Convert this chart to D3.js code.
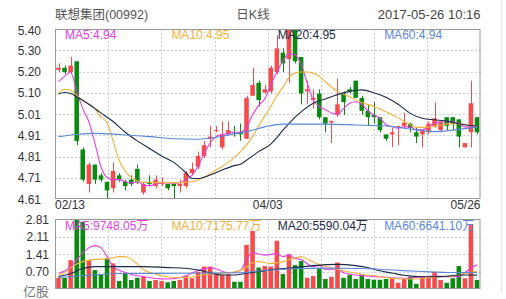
<!DOCTYPE html>
<html><head><meta charset="utf-8">
<script src="https://cdn.jsdelivr.net/npm/d3@7"></script>
<style>
html,body{margin:0;padding:0;background:#fff;}
svg{display:block;font-family:"Liberation Sans",Arial,"Noto Sans CJK SC",sans-serif;}
</style></head>
<body><svg id="c" width="506" height="299"></svg>
<script>
// ---------- data ----------
const title = "联想集团(00992)";
const subtitle = "日K线";
const stamp = "2017-05-26 10:16";
const opens  = [5.21,5.22,5.20,5.25,4.84,4.68,4.77,4.72,4.69,4.66,4.72,4.69,4.70,4.75,4.64,4.69,4.67,4.68,4.68,4.68,
                4.67,4.67,4.73,4.76,4.81,4.89,4.93,4.85,4.91,4.92,4.92,4.89,5.09,5.15,5.105,5.11,5.20,5.29,5.26,5.40,
                5.27,5.11,5.07,5.10,4.99,4.965,5.00,5.10,5.12,5.16,5.08,5.02,5.00,4.99,4.91,4.91,4.946,4.95,4.96,4.92,
                4.91,4.92,4.95,4.93,4.99,4.99,4.98,4.85,4.92,4.99];
const highs  = [5.24,5.23,5.27,5.25,4.85,4.78,4.77,4.73,4.69,4.78,4.73,4.70,4.72,4.77,4.69,4.72,4.72,4.71,4.68,4.68,
                4.70,4.74,4.78,4.83,4.88,4.95,4.95,4.97,4.97,4.95,4.96,5.09,5.22,5.16,5.14,5.23,5.37,5.31,5.40,5.40,
                5.27,5.16,5.12,5.12,4.99,4.975,5.17,5.11,5.13,5.16,5.09,5.05,5.06,4.99,4.91,4.94,4.95,5.01,4.965,4.94,
                4.93,4.97,5.06,4.97,4.99,4.99,4.98,4.87,5.16,4.99];
const lows   = [5.20,5.19,5.19,4.86,4.69,4.64,4.68,4.69,4.61,4.64,4.69,4.65,4.67,4.68,4.63,4.67,4.66,4.67,4.65,4.61,
                4.64,4.66,4.72,4.75,4.80,4.85,4.92,4.84,4.91,4.90,4.88,4.89,5.09,5.04,5.10,5.10,5.19,5.20,5.15,5.24,
                5.05,5.05,5.03,4.98,4.92,4.87,4.99,5.00,5.10,5.08,5.00,4.95,4.96,4.92,4.88,4.85,4.86,4.94,4.92,4.87,
                4.85,4.91,4.94,4.92,4.93,4.93,4.85,4.85,4.85,4.91];
const closes = [5.22,5.20,5.23,4.88,4.70,4.77,4.70,4.70,4.65,4.74,4.70,4.67,4.68,4.69,4.68,4.68,4.70,4.69,4.66,4.67,
                4.68,4.73,4.75,4.81,4.86,4.90,4.93,4.91,4.93,4.915,4.91,5.08,5.14,5.07,5.12,5.22,5.31,5.24,5.40,5.25,
                5.10,5.12,5.08,4.99,4.96,4.972,5.05,5.06,5.11,5.08,5.02,4.99,4.99,4.93,4.89,4.92,4.949,4.965,4.94,4.90,
                4.93,4.96,4.985,4.97,4.95,4.96,4.90,4.87,5.055,4.92];
// volume, 亿股
const volumes = [0.45,0.45,1.16,2.81,2.70,1.16,0.76,0.59,1.23,1.03,0.32,0.63,0.36,0.45,0.49,0.32,0.36,0.32,0.27,0.32,
                 0.36,0.52,0.43,0.69,0.90,0.90,0.59,0.56,0.59,0.29,0.29,1.77,2.33,0.86,0.92,0.90,1.94,0.60,1.40,0.96,
                 1.12,0.45,0.52,0.83,0.40,0.49,1.06,0.45,0.56,0.40,0.59,0.40,0.37,0.37,0.40,0.43,0.25,0.40,0.49,0.21,
                 0.49,0.45,0.69,0.36,0.25,0.43,0.92,0.43,2.61,0.36];
// moving averages: [day index, value]
const ma5  = [[0,5.155],[1,5.18],[2,5.20],[3,5.11],[4,5.03],[5,4.97],[6,4.87],[7,4.76],[8,4.71],[9,4.70],[10,4.70],[11,4.69],[12,4.685],[13,4.69],[14,4.675],[15,4.672],[16,4.68],[17,4.685],[18,4.685],[19,4.683],[20,4.686],[21,4.70],[22,4.72],[23,4.76],[24,4.82],[25,4.87],[26,4.90],[27,4.91],[28,4.915],[29,4.92],[30,4.92],[31,4.945],[32,5.00],[33,5.045],[34,5.075],[35,5.14],[36,5.20],[37,5.25],[38,5.285],[39,5.28],[40,5.235],[41,5.15],[42,5.07],[43,5.04],[44,5.025],[45,5.01],[46,5.005],[47,5.03],[48,5.055],[49,5.062],[50,5.05],[51,5.02],[52,5.00],[53,4.985],[54,4.955],[55,4.946],[56,4.939],[57,4.945],[58,4.945],[59,4.931],[60,4.932],[61,4.946],[62,4.962],[63,4.968],[64,4.969],[65,4.969],[66,4.962],[67,4.945],[68,4.943],[69,4.945]];
const ma10 = [[0,5.10],[1,5.12],[2,5.115],[3,5.09],[4,5.07],[5,5.05],[6,5.03],[7,4.99],[8,4.965],[9,4.88],[10,4.79],[11,4.74],[12,4.71],[13,4.695],[14,4.688],[16,4.686],[18,4.686],[20,4.687],[22,4.69],[24,4.712],[26,4.745],[28,4.78],[30,4.83],[32,4.90],[33,4.95],[34,4.995],[35,5.04],[36,5.09],[37,5.13],[38,5.175],[39,5.195],[40,5.20],[41,5.20],[42,5.195],[43,5.18],[44,5.155],[46,5.11],[48,5.085],[50,5.058],[52,5.04],[54,5.015],[56,4.987],[58,4.955],[59,4.943],[61,4.943],[62,4.948],[64,4.958],[66,4.96],[67,4.955],[69,4.95]];
const ma20 = [[0,5.098],[1,5.105],[2,5.10],[3,5.085],[5,5.05],[7,5.01],[9,4.97],[11,4.92],[13,4.88],[15,4.845],[17,4.81],[19,4.78],[21,4.732],[22,4.705],[23,4.705],[25,4.722],[27,4.745],[29,4.765],[30,4.772],[31,4.79],[33,4.83],[35,4.865],[36,4.895],[37,4.93],[38,4.96],[39,4.99],[40,5.015],[42,5.055],[44,5.075],[46,5.095],[48,5.11],[50,5.117],[52,5.104],[54,5.083],[56,5.05],[58,5.008],[60,4.985],[62,4.978],[64,4.972],[66,4.96],[69,4.949]];
const ma60 = [[0,4.90],[3,4.91],[6,4.915],[10,4.91],[15,4.90],[19,4.89],[23,4.888],[26,4.897],[28,4.907],[31,4.923],[34,4.945],[37,4.958],[44,4.958],[49,4.954],[54,4.949],[58,4.935],[60,4.928],[62,4.923],[65,4.93],[69,4.944]];
const vma5  = [[0,0.63],[1,0.72],[2,0.90],[3,1.16],[4,1.45],[5,1.65],[6,1.74],[7,1.66],[8,1.30],[9,0.90],[10,0.75],[11,0.66],[12,0.58],[14,0.50],[16,0.42],[18,0.40],[20,0.45],[21,0.53],[22,0.64],[23,0.74],[25,0.86],[26,0.80],[28,0.65],[30,0.74],[31,1.20],[32,1.45],[34,1.36],[36,1.42],[37,1.30],[38,1.36],[39,1.23],[40,1.18],[42,0.90],[43,0.95],[44,0.78],[46,0.80],[47,0.65],[49,0.56],[51,0.52],[53,0.49],[55,0.45],[57,0.43],[60,0.49],[62,0.52],[64,0.49],[66,0.49],[67,0.65],[68,0.85],[69,0.975]];
const vma10 = [[0,0.55],[1,0.65],[2,0.85],[3,1.00],[5,1.16],[7,1.20],[9,1.25],[10,1.30],[11,1.30],[12,1.20],[13,1.00],[14,0.78],[16,0.60],[18,0.48],[20,0.45],[22,0.48],[24,0.58],[26,0.62],[29,0.68],[31,0.88],[32,1.05],[33,1.10],[35,1.03],[37,1.10],[39,1.25],[40,1.30],[41,1.20],[43,0.98],[45,0.85],[48,0.68],[50,0.59],[52,0.53],[54,0.46],[56,0.41],[59,0.40],[61,0.45],[63,0.49],[65,0.52],[67,0.62],[69,0.718]];
const vma20 = [[0,0.50],[2,0.62],[4,0.82],[6,0.90],[10,0.90],[14,0.90],[18,0.86],[21,0.83],[23,0.76],[25,0.65],[27,0.56],[29,0.56],[31,0.63],[33,0.70],[36,0.80],[39,0.86],[42,0.94],[46,0.99],[49,0.94],[51,0.86],[53,0.73],[55,0.64],[57,0.55],[60,0.49],[62,0.49],[64,0.51],[66,0.56],[69,0.559]];
const vma60 = [[0,0.46],[5,0.55],[10,0.62],[20,0.63],[30,0.65],[33,0.72],[38,0.80],[44,0.84],[50,0.82],[55,0.76],[60,0.70],[65,0.66],[69,0.664]];
const priceTickLabels = ["5.40","5.30","5.20","5.10","5.01","4.91","4.81","4.71","4.61"];
const volTickLabels = ["2.81","2.11","1.41","0.70","亿股"];
const dateLabelIdx = [0,35,69];
const dateLabels = ["02/13","04/03","05/26"];
const maNames = ["MA5","MA10","MA20","MA60"];
const maLast = ["4.94","4.95","4.95","4.94"];
const vmaLast = ["9748.05万","7175.77万","5590.04万","6641.10万"];

// ---------- styles ----------
const maColors = ["#e23ee2","#f2b23a","#1b2a48","#5a88d8"];
const upColor = "#f24c4c", downColor = "#0b8a12";
const L = 55, R = 480.5, T1 = 29, B1 = 199, T2 = 219, B2 = 289;

const svg = d3.select("#c");
const n = closes.length;
const x = d3.scaleBand().domain(d3.range(n)).range([L+0.5, R-0.5]).paddingInner(0.25).paddingOuter(0.12);
const xc = i => x(0) + x.step()*i + x.bandwidth()/2;
const yP = d3.scaleLinear().domain([4.61,5.40]).range([B1,T1]);
const yV = d3.scaleLinear().domain([0,2.81]).range([B2,T2]);

// title row
const tf = svg.append("g").attr("fill","#555").style("font-size","12.5px");
tf.append("text").attr("x",L).attr("y",19).text(title);
tf.append("text").attr("x",253).attr("y",19).attr("text-anchor","middle").text(subtitle);
tf.append("text").attr("x",R).attr("y",19).attr("text-anchor","end").attr("fill","#444").style("font-size","13px").text(stamp);

// faint right border
svg.append("line").attr("x1",501.5).attr("x2",501.5).attr("y1",0).attr("y2",292).attr("stroke","#e6e6e6");

// grids
function grid(top,bottom,hCount){
  const g = svg.append("g").attr("stroke","#d0d0d0").attr("stroke-dasharray","2,2").attr("shape-rendering","crispEdges");
  for(let k=1;k<8;k++){ const gx = Math.round(L + (R-L)*k/8)+0.5;
    g.append("line").attr("x1",gx).attr("x2",gx).attr("y1",top).attr("y2",bottom); }
  for(let k=1;k<hCount;k++){ const gy = Math.round(top + (bottom-top)*k/hCount)+0.5;
    g.append("line").attr("x1",L).attr("x2",R).attr("y1",gy).attr("y2",gy); }
}
grid(T1,B1,8);
grid(T2,B2,4);

// y tick labels
const pl = svg.append("g").attr("fill","#333").style("font-size","12px").attr("text-anchor","end");
priceTickLabels.forEach((t,k)=>{
  const v = 5.40 - k*(5.40-4.61)/8;
  pl.append("text").attr("x",41).attr("y",Math.max(yP(v)+1.5,31.5)).attr("dominant-baseline","middle").text(t);
});
const vl = svg.append("g").attr("fill","#333").style("font-size","12px").attr("text-anchor","end");
volTickLabels.forEach((t,k)=>{
  const v = 2.81 - k*2.81/4;
  const yy = k===0 ? yV(v)+2 : (k===4 ? yV(v)+3.5 : yV(v)+1.5);
  vl.append("text").attr("x",49).attr("y",yy).attr("dominant-baseline","middle")
    .attr("fill", k===4 ? "#777" : "#333").style("font-size", k===4 ? "13px":"12px").text(t);
});

// date labels
const dl = svg.append("g").attr("fill","#333").style("font-size","12px");
dateLabelIdx.forEach((idx,k)=>{
  const anchor = k===0 ? "start" : (k===dateLabels.length-1 ? "end" : "middle");
  const xx = k===0 ? L : (k===dateLabels.length-1 ? R : (L+R)/2);
  dl.append("text").attr("x",xx).attr("y",206).attr("dominant-baseline","middle").attr("text-anchor",anchor).text(dateLabels[k]);
});

// clip paths
const defs = svg.append("defs");
defs.append("clipPath").attr("id","c1").append("rect").attr("x",L).attr("y",T1).attr("width",R-L).attr("height",B1-T1);
defs.append("clipPath").attr("id","c2").append("rect").attr("x",L).attr("y",T2).attr("width",R-L).attr("height",B2-T2);

// candles
const cg = svg.append("g").attr("clip-path","url(#c1)");
d3.range(n).forEach(i=>{
  const up = closes[i] >= opens[i];
  const col = up ? upColor : downColor;
  const cx = Math.round(xc(i))+0.5;
  cg.append("line").attr("x1",cx).attr("x2",cx).attr("y1",yP(highs[i])).attr("y2",yP(lows[i])).attr("stroke",col);
  const top = yP(Math.max(opens[i],closes[i])), bot = yP(Math.min(opens[i],closes[i]));
  cg.append("rect").attr("x",x(i)).attr("width",x.bandwidth()).attr("y",top).attr("height",Math.max(bot-top,1)).attr("fill",col);
});

// volume bars
const vg = svg.append("g").attr("clip-path","url(#c2)");
d3.range(n).forEach(i=>{
  const up = closes[i] >= opens[i];
  vg.append("rect").attr("x",x(i)).attr("width",x.bandwidth()).attr("y",yV(volumes[i])).attr("height",B2-yV(volumes[i]))
    .attr("fill", up ? upColor : downColor);
});

// MA lines
function drawLine(g,data,yS,color){
  const line = d3.line().x(d=>xc(d[0])).y(d=>yS(d[1])).curve(d3.curveMonotoneX);
  g.append("path").attr("d",line(data)).attr("fill","none").attr("stroke",color).attr("stroke-width",1.1);
}
const lg1 = svg.append("g").attr("clip-path","url(#c1)");
[ma5,ma10,ma20,ma60].forEach((d,k)=>drawLine(lg1,d,yP,maColors[k]));
const lg2 = svg.append("g").attr("clip-path","url(#c2)");
[vma5,vma10,vma20,vma60].forEach((d,k)=>drawLine(lg2,d,yV,maColors[k]));

// frames
svg.append("rect").attr("x",L+0.5).attr("y",T1+0.5).attr("width",R-L-1).attr("height",B1-T1-1).attr("fill","none").attr("stroke","#999");
svg.append("rect").attr("x",L+0.5).attr("y",T2+0.5).attr("width",R-L-1).attr("height",B2-T2-1).attr("fill","none").attr("stroke","#999");

// legends
maNames.forEach((nm,k)=>{
  const lx = L + 10 + k*(R-L)/4;
  svg.append("text").attr("x",lx).attr("y",36).attr("dominant-baseline","middle").attr("fill",maColors[k]).style("font-size","12px").text(nm+":"+maLast[k]);
  svg.append("text").attr("x",lx).attr("y",227).attr("dominant-baseline","middle").attr("fill",maColors[k]).style("font-size","12px").text(nm+":"+vmaLast[k]);
});
</script></body></html>
